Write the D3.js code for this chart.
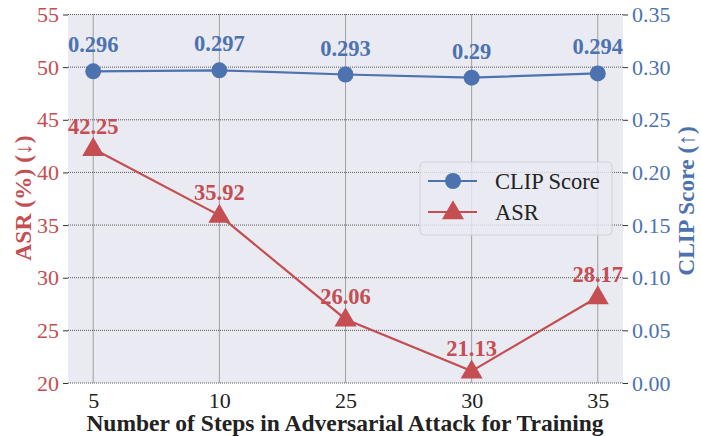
<!DOCTYPE html>
<html><head><meta charset="utf-8">
<script src="https://cdn.jsdelivr.net/npm/d3@7"></script>
<style>body{margin:0;background:#fff}svg{display:block}svg text{font-family:"Liberation Serif","Times New Roman",serif !important}</style>
</head><body><svg id="c" width="701" height="436"></svg>
<script>
const categories = ["5","10","25","30","35"];
const clipScore = [0.296,0.297,0.293,0.290,0.294];
const asr = [42.25,35.92,26.06,21.13,28.17];
const asrTicks = [20,25,30,35,40,45,50,55];
const clipTicks = [0,0.05,0.10,0.15,0.20,0.25,0.30,0.35];
const blue="#4C72B0", red="#C44E52";
const svg=d3.select("#c");
const L=68,R=623,T=14.5,B=383;
const x=d3.scalePoint().domain(categories).range([L,R]).padding(0.2);
const yL=d3.scaleLinear().domain([20,55]).range([B,T]);
const yR=d3.scaleLinear().domain([0,0.35]).range([B,T]);
svg.append("rect").attr("x",L).attr("y",T).attr("width",R-L).attr("height",B-T).attr("fill","#EAEAF2");
// grid
const g=svg.append("g").attr("stroke","#444").attr("stroke-width",0.9).attr("stroke-dasharray","1,1");
asrTicks.forEach(t=>g.append("line").attr("x1",L).attr("x2",R).attr("y1",yL(t)).attr("y2",yL(t)));
categories.forEach(c=>g.append("line").attr("x1",x(c)).attr("x2",x(c)).attr("y1",T).attr("y2",B));
// axes
const axL=svg.append("g").attr("transform",`translate(${L},0)`).call(d3.axisLeft(yL).tickValues(asrTicks).tickSize(5).tickPadding(4).tickFormat(d3.format("d")));
axL.select(".domain").remove();
axL.selectAll("line").attr("stroke","#333");
axL.selectAll("text").attr("fill",red).style("font-size","22px");
const axR=svg.append("g").attr("transform",`translate(${R},0)`).call(d3.axisRight(yR).tickValues(clipTicks).tickSize(5).tickPadding(4).tickFormat(d3.format(".2f")));
axR.select(".domain").remove();
axR.selectAll("line").attr("stroke","#333");
axR.selectAll("text").attr("fill",blue).style("font-size","22px");
const axB=svg.append("g").attr("transform",`translate(0,${B})`).call(d3.axisBottom(x).tickSize(0).tickPadding(9));
axB.select(".domain").remove();
axB.selectAll("text").attr("fill","#222").style("font-size","22px");
// labels
svg.append("text").attr("x",345).attr("y",431).attr("text-anchor","middle").attr("font-weight","bold").style("font-size","23.5px").attr("fill","#222").text("Number of Steps in Adversarial Attack for Training");
svg.append("text").attr("transform","translate(31,198) rotate(-90)").attr("text-anchor","middle").attr("font-weight","bold").style("font-size","23.5px").attr("fill",red).text("ASR (%) (↓)");
svg.append("text").attr("transform","translate(694,201) rotate(-90)").attr("text-anchor","middle").attr("font-weight","bold").style("font-size","23.5px").attr("fill",blue).text("CLIP Score (↑)");
// lines
const lineC=d3.line().x((d,i)=>x(categories[i])).y(d=>yR(d));
const lineA=d3.line().x((d,i)=>x(categories[i])).y(d=>yL(d));
svg.append("path").attr("d",lineC(clipScore)).attr("fill","none").attr("stroke",blue).attr("stroke-width",2.2);
svg.append("path").attr("d",lineA(asr)).attr("fill","none").attr("stroke",red).attr("stroke-width",2.2);
const tri=d3.symbol().type(d3.symbolTriangle).size(210);
svg.selectAll(".tri").data(asr).join("path").attr("d",tri).attr("transform",(d,i)=>`translate(${x(categories[i])},${yL(d)+1})`).attr("fill",red);
svg.selectAll(".cir").data(clipScore).join("circle").attr("cx",(d,i)=>x(categories[i])).attr("cy",d=>yR(d)).attr("r",8).attr("fill",blue);
svg.selectAll(".lc").data(clipScore).join("text").attr("x",(d,i)=>x(categories[i])).attr("y",d=>yR(d)-19).attr("text-anchor","middle").attr("font-weight","bold").style("font-size","22.5px").attr("fill",blue).text(d=>String(d));
svg.selectAll(".la").data(asr).join("text").attr("x",(d,i)=>x(categories[i])).attr("y",d=>yL(d)-15).attr("text-anchor","middle").attr("font-weight","bold").style("font-size","22.5px").attr("fill",red).text(d=>d.toFixed(2));
// legend
const lg=svg.append("g");
lg.append("rect").attr("x",420).attr("y",162).attr("width",192).attr("height",73).attr("rx",4).attr("fill","#EAEAF2").attr("fill-opacity",0.8).attr("stroke","#d0d0d8").attr("stroke-width",1);
lg.append("line").attr("x1",428).attr("x2",477).attr("y1",181).attr("y2",181).attr("stroke",blue).attr("stroke-width",2.2);
lg.append("circle").attr("cx",453).attr("cy",181).attr("r",8).attr("fill",blue);
lg.append("line").attr("x1",428).attr("x2",477).attr("y1",212).attr("y2",212).attr("stroke",red).attr("stroke-width",2.2);
lg.append("path").attr("d",tri).attr("transform","translate(453,213)").attr("fill",red);
lg.append("text").attr("x",495).attr("y",189).style("font-size","22.5px").attr("fill","#222").text("CLIP Score");
lg.append("text").attr("x",495).attr("y",220).style("font-size","22.5px").attr("fill","#222").text("ASR");
</script></body></html>
